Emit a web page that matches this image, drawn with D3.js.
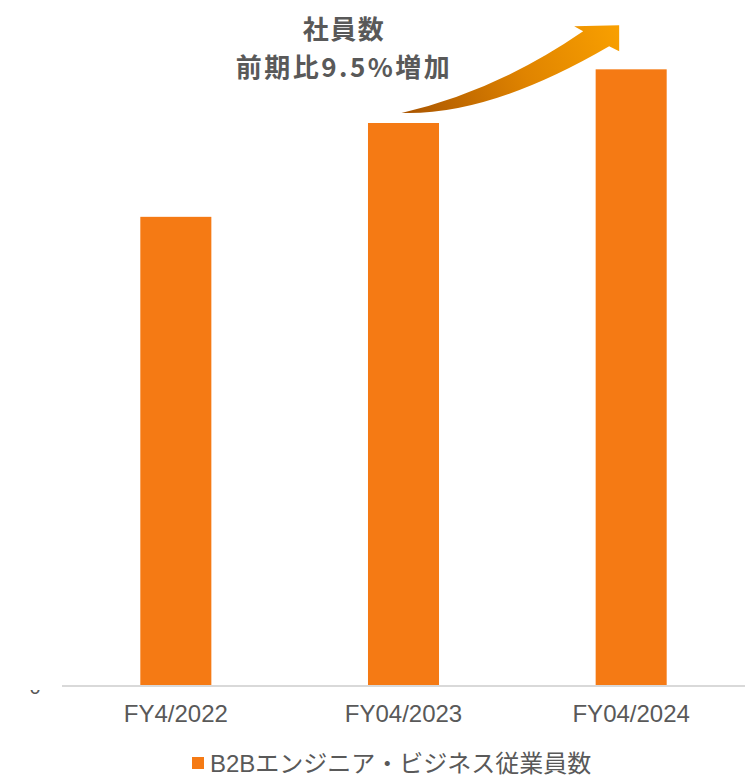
<!DOCTYPE html>
<html lang="ja">
<head>
<meta charset="utf-8">
<script src="https://cdn.jsdelivr.net/npm/d3@7"></script>
<style>
  html, body { margin: 0; padding: 0; background: #ffffff; }
  svg { display: block; }
</style>
</head>
<body>
<svg id="chart" width="751" height="779"></svg>
<script>
// Fiscal years and headcount of B2B engineers & business staff
const categories = ["FY4/2022", "FY04/2023", "FY04/2024"];
const headcount = [1250, 1500, 1643];
const seriesName = "B2Bエンジニア・ビジネス従業員数";
const yTickLabels = ["0"];
const calloutLines = ["社員数", "前期比9.5%増加"];

const W = 751, H = 779;
const plot = { left: 62, right: 745, top: 10.4, bottom: 686 };
const barColor = "#F57A14";
const textColor = "#595959";

const svg = d3.select("#chart");

const x = d3.scaleBand()
  .domain(categories)
  .range([plot.left, plot.right])
  .paddingInner(0.688)
  .paddingOuter(0.344);

const y = d3.scaleLinear()
  .domain([0, 1800])
  .range([plot.bottom, plot.top]);

// bars
svg.append("g")
  .selectAll("rect")
  .data(categories.map((c, i) => ({ c, v: headcount[i] })))
  .join("rect")
  .attr("x", d => x(d.c))
  .attr("y", d => y(d.v))
  .attr("width", x.bandwidth())
  .attr("height", d => y(0) - y(d.v))
  .attr("fill", barColor);

// category axis
const xAxis = svg.append("g")
  .attr("transform", `translate(0,${y(0)})`)
  .call(d3.axisBottom(x).tickSize(0).tickPadding(0));
xAxis.select(".domain")
  .attr("stroke", "#d9d9d9")
  .attr("stroke-width", 2)
  .attr("d", `M${plot.left},0H${plot.right}`);
xAxis.selectAll(".tick text")
  .attr("y", 36)
  .attr("dy", null)
  .attr("fill", textColor)
  .attr("font-family", "'Liberation Sans', Arial, sans-serif")
  .attr("font-size", 24);

// value-axis zero label, partly hidden under the plot edge
svg.append("clipPath").attr("id", "zeroClip")
  .append("rect").attr("x", 0).attr("y", y(0) + 4).attr("width", 60).attr("height", 20);
svg.append("g").attr("clip-path", "url(#zeroClip)")
  .selectAll("text")
  .data(yTickLabels)
  .join("text")
  .attr("x", 35)
  .attr("y", y(0) + 8)
  .attr("text-anchor", "middle")
  .attr("fill", textColor)
  .attr("font-family", "'Liberation Sans', Arial, sans-serif")
  .attr("font-size", 20)
  .text(d => d);

// growth arrow, anchored on the last two bars
const c2 = x(categories[1]) + x.bandwidth() / 2;
const c3 = x(categories[2]) + x.bandwidth() / 2;
const tail = [c2 - 2, y(headcount[1]) - 10];
const tip = [c3 - 12, y(headcount[2]) - 44];
const P = (dx, dy, ref) => [ref[0] + dx, ref[1] + dy];
const barb = P(-45, 1, tip);
const headLow = P(0, 26, tip);
const joinUp = P(-36, 6, tip);
const joinLow = P(-10, 21, tip);
const ctrlUp = [tail[0] + 95, tail[1] - 22];
const ctrlLow = [tail[0] + 88, tail[1] + 3];

const defs = svg.append("defs");
const grad = defs.append("linearGradient")
  .attr("id", "arrowGrad")
  .attr("gradientUnits", "userSpaceOnUse")
  .attr("x1", tail[0]).attr("y1", tail[1])
  .attr("x2", tip[0]).attr("y2", tip[1]);
grad.append("stop").attr("offset", "0%").attr("stop-color", "#A85400");
grad.append("stop").attr("offset", "55%").attr("stop-color", "#E08400");
grad.append("stop").attr("offset", "100%").attr("stop-color", "#F9A000");

const arrow = d3.path();
arrow.moveTo(...tail);
arrow.quadraticCurveTo(...ctrlUp, ...joinUp);
arrow.lineTo(...barb);
arrow.lineTo(...tip);
arrow.lineTo(...headLow);
arrow.lineTo(...joinLow);
arrow.quadraticCurveTo(...ctrlLow, ...tail);
arrow.closePath();
svg.append("path")
  .attr("d", arrow.toString())
  .attr("fill", "url(#arrowGrad)");

// callout text, two centred lines
svg.append("g")
  .selectAll("text")
  .data(calloutLines)
  .join("text")
  .attr("x", 344)
  .attr("y", (d, i) => 39 + i * 38)
  .attr("text-anchor", "middle")
  .attr("fill", textColor)
  .attr("font-family", "'Noto Sans CJK JP', sans-serif")
  .attr("font-weight", "bold")
  .attr("font-size", 26)
  .attr("letter-spacing", (d, i) => i === 1 ? 2.5 : 1.5)
  .style("paint-order", "stroke")
  .attr("stroke", "#ffffff")
  .attr("stroke-width", 2)
  .text(d => d);

// legend
const legend = svg.append("g").attr("transform", "translate(192,757)");
legend.append("rect")
  .attr("width", 12).attr("height", 12)
  .attr("fill", barColor);
legend.append("text")
  .attr("x", 18)
  .attr("y", 15)
  .attr("fill", textColor)
  .attr("font-family", "'Liberation Sans', 'Noto Sans CJK JP', sans-serif")
  .attr("font-size", 24)
  .text(seriesName);
</script>
</body>
</html>
